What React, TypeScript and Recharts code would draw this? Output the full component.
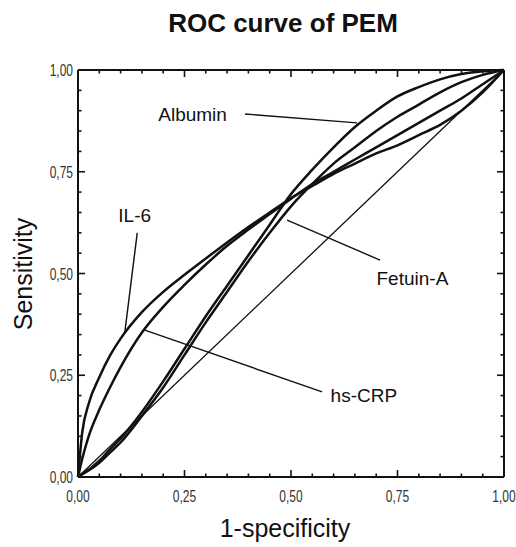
import React from 'react';
import { LineChart, Line, XAxis, YAxis, ReferenceLine, ReferenceDot, Label } from 'recharts';

// false positive rate grid shared by the four curves
const fpr = [0, 0.01, 0.025, 0.05, 0.075, 0.1, 0.15, 0.2, 0.25, 0.3, 0.35, 0.4, 0.45, 0.5, 0.55, 0.6, 0.65, 0.7, 0.75, 0.8, 0.85, 0.9, 0.95, 1];

// sensitivity
const albumin = [0, 0.008, 0.018, 0.04, 0.068, 0.095, 0.16, 0.235, 0.315, 0.395, 0.47, 0.545, 0.62, 0.695, 0.755, 0.81, 0.86, 0.9, 0.935, 0.958, 0.977, 0.99, 0.997, 1];
const fetuinA = [0, 0.007, 0.016, 0.035, 0.06, 0.085, 0.15, 0.22, 0.3, 0.38, 0.455, 0.53, 0.6, 0.665, 0.72, 0.77, 0.81, 0.85, 0.885, 0.915, 0.945, 0.97, 0.988, 1];
const il6 = [0, 0.11, 0.18, 0.245, 0.298, 0.34, 0.405, 0.455, 0.497, 0.537, 0.576, 0.614, 0.65, 0.685, 0.715, 0.745, 0.77, 0.795, 0.815, 0.84, 0.865, 0.9, 0.945, 1];
const hsCrp = [0, 0.045, 0.1, 0.165, 0.22, 0.27, 0.355, 0.418, 0.472, 0.522, 0.568, 0.608, 0.646, 0.684, 0.72, 0.75, 0.78, 0.81, 0.84, 0.87, 0.9, 0.93, 0.965, 1];

const diagonal = [{ x: 0, y: 0 }, { x: 1, y: 1 }];

const ticks = [0, 0.05, 0.1, 0.15, 0.2, 0.25, 0.3, 0.35, 0.4, 0.45, 0.5, 0.55, 0.6, 0.65, 0.7, 0.75, 0.8, 0.85, 0.9, 0.95, 1];

// curve labels and their pointer lines (data coords)
const labels = [
  { name: 'Albumin', x: 0.269, y: 0.892, from: [0.392, 0.892], to: [0.655, 0.87] },
  { name: 'IL-6', x: 0.133, y: 0.642, from: [0.139, 0.6], to: [0.11, 0.356] },
  { name: 'Fetuin-A', x: 0.785, y: 0.488, from: [0.709, 0.533], to: [0.491, 0.631] },
  { name: 'hs-CRP', x: 0.671, y: 0.2, from: [0.573, 0.209], to: [0.157, 0.361] },
];

const toRows = (ys: number[]) => fpr.map((x, i) => ({ x, y: ys[i] }));

const INK = '#111';
const FONT = '"Liberation Sans", Arial, sans-serif';

const PLOT_W = 426;
const PLOT_H = 407;

const isMajor = (v: number) => Math.abs(v * 4 - Math.round(v * 4)) < 1e-6;
const fmt = (v: number) => v.toFixed(2).replace('.', ',');

// inward tick marks on all four sides, as short segments in data space
const tickMarks = ticks.flatMap((t) => {
  const px = isMajor(t) ? 7 : 3.5;
  const dx = px / PLOT_W;
  const dy = px / PLOT_H;
  return [
    [{ x: t, y: 0 }, { x: t, y: dy }],
    [{ x: t, y: 1 }, { x: t, y: 1 - dy }],
    [{ x: 0, y: t }, { x: dx, y: t }],
    [{ x: 1, y: t }, { x: 1 - dx, y: t }],
  ];
});

// condensed tick labels
const BottomLabel = ({ x, y, payload }: any) =>
  isMajor(payload.value) ? (
    <text transform={`translate(${x},${y + 25}) scale(0.75,1)`} textAnchor="middle" fontSize={16} fontFamily={FONT} fill="#333">
      {fmt(payload.value)}
    </text>
  ) : (
    <g />
  );

const LeftLabel = ({ x, y, payload }: any) =>
  isMajor(payload.value) ? (
    <text transform={`translate(${x - 5},${y + 6}) scale(0.75,1)`} textAnchor="end" fontSize={16} fontFamily={FONT} fill="#333">
      {fmt(payload.value)}
    </text>
  ) : (
    <g />
  );

export default function App() {
  return (
    <div style={{ position: 'absolute', left: 0, top: 0, width: 516, height: 547, background: '#fff' }}>
      <LineChart width={516} height={547} margin={{ top: 68, right: 10, bottom: 0, left: 0 }}>
        <XAxis
          dataKey="x" type="number" domain={[0, 1]} ticks={ticks} interval={0}
          height={70} tickSize={0} tickMargin={0} tickLine={false} tick={<BottomLabel />}
          axisLine={{ stroke: INK, strokeWidth: 2 }}
        >
          <Label
            content={() => (
              <text x={285} y={537} textAnchor="middle" fontSize={25} fontFamily={FONT} fill={INK}>
                1-specificity
              </text>
            )}
          />
        </XAxis>
        <XAxis
          xAxisId="top" orientation="top" dataKey="x" type="number" domain={[0, 1]}
          height={2} tick={false} tickLine={false}
          axisLine={{ stroke: INK, strokeWidth: 2 }}
        >
          <Label
            content={() => (
              <text x={283} y={32} textAnchor="middle" fontSize={26} fontWeight="bold" fontFamily={FONT} fill={INK}>
                ROC curve of PEM
              </text>
            )}
          />
        </XAxis>
        <YAxis
          type="number" domain={[0, 1]} ticks={ticks} interval={0}
          width={78} tickSize={0} tickMargin={0} tickLine={false} tick={<LeftLabel />}
          axisLine={{ stroke: INK, strokeWidth: 2 }}
        >
          <Label
            content={() => (
              <text x={32} y={274} transform="rotate(-90 32 274)" textAnchor="middle" fontSize={25} fontFamily={FONT} fill={INK}>
                Sensitivity
              </text>
            )}
          />
        </YAxis>
        <YAxis
          yAxisId="right" orientation="right" type="number" domain={[0, 1]}
          width={2} tick={false} tickLine={false}
          axisLine={{ stroke: INK, strokeWidth: 2 }}
        />

        {tickMarks.map((seg, i) => (
          <ReferenceLine key={`tick-${i}`} segment={seg} stroke={INK} strokeWidth={1.6} />
        ))}

        <Line xAxisId="top" yAxisId="right" data={diagonal} dataKey="y" type="linear" stroke={INK} strokeWidth={1.3} dot={false} isAnimationActive={false} />
        <Line data={toRows(il6)} dataKey="y" type="monotone" stroke={INK} strokeWidth={2.5} dot={false} isAnimationActive={false} />
        <Line data={toRows(hsCrp)} dataKey="y" type="monotone" stroke={INK} strokeWidth={2.5} dot={false} isAnimationActive={false} />
        <Line data={toRows(fetuinA)} dataKey="y" type="monotone" stroke={INK} strokeWidth={2.5} dot={false} isAnimationActive={false} />
        <Line data={toRows(albumin)} dataKey="y" type="monotone" stroke={INK} strokeWidth={2.5} dot={false} isAnimationActive={false} />

        {labels.map((l) => (
          <ReferenceLine
            key={`line-${l.name}`}
            segment={[{ x: l.from[0], y: l.from[1] }, { x: l.to[0], y: l.to[1] }]}
            stroke={INK} strokeWidth={1.4}
          />
        ))}
        {labels.map((l) => (
          <ReferenceDot
            key={`dot-${l.name}`} x={l.x} y={l.y} r={0} stroke="none" fill="none"
            label={{ value: l.name, position: 'center', fontSize: 19, fontFamily: FONT, fill: INK }}
          />
        ))}
      </LineChart>
    </div>
  );
}
